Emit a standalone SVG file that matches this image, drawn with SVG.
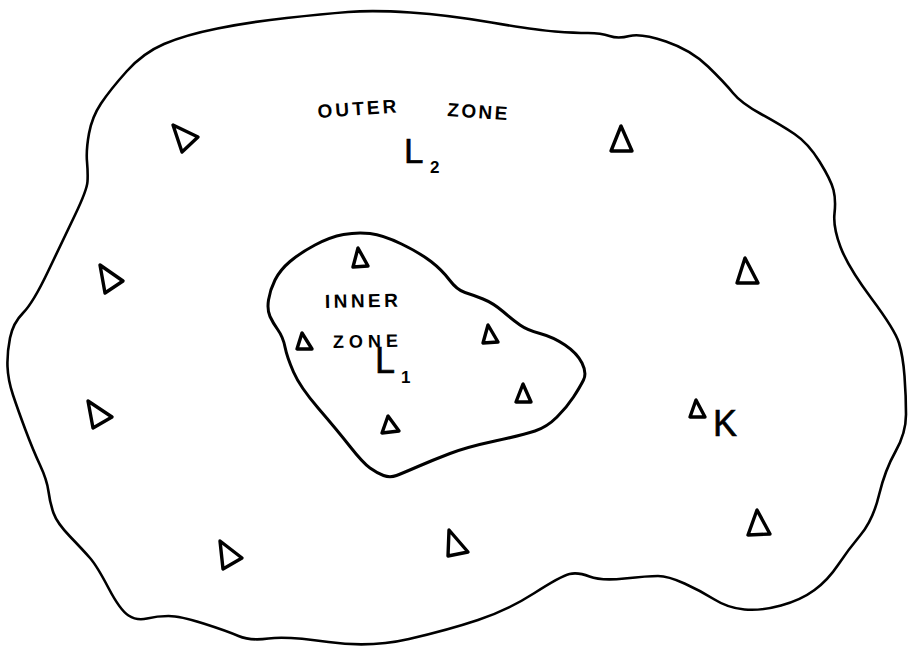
<svg xmlns="http://www.w3.org/2000/svg" width="908" height="653" viewBox="0 0 908 653">
<style>
.bd{fill:none;stroke:#000;stroke-linejoin:round;stroke-linecap:round}
.tri{fill:none;stroke:#000;stroke-width:3.4;stroke-linejoin:round}
.lbl{font-family:"Liberation Sans",Arial,sans-serif;font-weight:bold;fill:#000}
.big{font-family:"Liberation Sans",Arial,sans-serif;fill:#000;stroke:#000;stroke-width:0.6}
</style>
<rect width="908" height="653" fill="#fff"/>
<g id="outer-zone">
<path class="bd" stroke-width="2.6" d="M 164,44 Q 185,35 217.5,28.5 Q 250,22 286.5,18 Q 323,14 348,12 Q 373,10 410.5,12.5 Q 448,15 491.5,22.5 Q 535,30 555,31.5 Q 575,33 588,33 Q 601,33 609.5,36 Q 618,39 629.5,36 Q 641,33 666,41.5 Q 691,50 708,66.5 Q 725,83 733,93 Q 741,103 761,114 Q 781,125 794.5,134 Q 808,143 819.5,161.5 Q 831,180 833.5,190 Q 836,200 834.5,213.5 Q 833,227 840.5,247 Q 848,267 871.5,298.5 Q 895,330 899,343 Q 903,356 904.5,376 Q 906,396 906,414.5 Q 906,433 895.5,451.5 Q 885,470 879,495 Q 873,520 860.5,535 Q 848,550 838,565 Q 828,580 814.5,590 Q 801,600 781,605.5 Q 761,611 744.5,609.5 Q 728,608 714.5,599.5 Q 701,591 684.5,583.5 Q 668,576 658,576 Q 648,576 624.5,578.5 Q 601,581 589.5,576.5 Q 578,572 569.5,574 Q 561,576 534.5,593 Q 508,610 478,620 Q 448,630 409,639 Q 370,648 328.5,642 Q 287,636 268.5,638.5 Q 250,641 238.5,636 Q 227,631 203.5,623.5 Q 180,616 168.5,616 Q 157,616 147,618.5 Q 137,621 128.5,615.5 Q 120,610 108.5,588 Q 97,566 90,558 Q 83,550 70,536.5 Q 57,523 53.5,513 Q 50,503 48.5,491.5 Q 47,480 40,465 Q 33,450 25.5,430 Q 18,410 13,395 Q 8,380 7.5,366.5 Q 7,353 10,338 Q 13,323 23,313 Q 33,303 48,271.5 Q 63,240 75,215 Q 87,190 87.5,181.5 Q 88,173 87,161.5 Q 86,150 89,133.5 Q 92,117 101,103.5 Q 110,90 126.5,71.5 Q 143,53 164,44 Z"/>
<text class="lbl" x="318" y="118" font-size="19" textLength="79" lengthAdjust="spacing" transform="rotate(-4 318 118)">OUTER</text>
<text class="lbl" x="447" y="116" font-size="19" textLength="60" lengthAdjust="spacing" transform="rotate(4 447 116)">ZONE</text>
<text class="big" x="404" y="163" font-size="35">L</text>
<text class="lbl" x="430" y="173" font-size="17">2</text>
</g>
<g id="inner-zone">
<path class="bd" stroke-width="3" d="M 315,245 Q 330,237 343.5,234.5 Q 357,232 370,233.5 Q 383,235 401.5,244 Q 420,253 431,261.5 Q 442,270 449.5,280 Q 457,290 465,292.5 Q 473,295 483,299 Q 493,303 503,311.5 Q 513,320 520,325 Q 527,330 540,333.5 Q 553,337 565,345 Q 577,353 582,363 Q 587,373 583.5,380 Q 580,387 573.5,397 Q 567,407 557,417 Q 547,427 535,431 Q 523,435 495,441 Q 467,447 450,453.5 Q 433,460 418,466.5 Q 403,473 396.5,475.5 Q 390,478 383.5,475.5 Q 377,473 370,468 Q 363,463 350,446.5 Q 337,430 318.5,408.5 Q 300,387 293.5,372 Q 287,357 285,347 Q 283,337 278,330 Q 273,323 270,316.5 Q 267,310 268.5,300 Q 270,290 275,280 Q 280,270 290,261.5 Q 300,253 315,245 Z"/>
<text class="lbl" x="325" y="308" font-size="19" textLength="73" lengthAdjust="spacing" transform="rotate(-1 325 308)">INNER</text>
<text class="lbl" x="333" y="348" font-size="18" textLength="65" lengthAdjust="spacing" transform="rotate(-1 333 348)">ZONE</text>
<text class="big" x="375" y="373" font-size="36">L</text>
<text class="lbl" x="401" y="383" font-size="17">1</text>
</g>
<g id="stations">
<polygon class="tri" points="173,125 198,137 182,152"/>
<polygon class="tri" points="100,265 123,281 105,293"/>
<polygon class="tri" points="358,248 353,267 368,266"/>
<polygon class="tri" points="621,126 611,151 632,151"/>
<polygon class="tri" points="745,258 737,283 758,283"/>
<polygon class="tri" points="302,333 297,349 312,349"/>
<polygon class="tri" points="488,325 483,343 498,342"/>
<polygon class="tri" points="523,384 516,402 531,402"/>
<polygon class="tri" points="388,416 382,433 399,431"/>
<polygon class="tri" points="88,401 112,417 93,428"/>
<polygon class="tri" points="220,541 242,558 223,569"/>
<polygon class="tri" points="449,530 468,552 448,556"/>
<polygon class="tri" points="757,510 748,535 770,534"/>
</g>
<g id="station-k">
<polygon class="tri" points="696,400 690,417 705,417"/>
<text class="big" x="713" y="436" font-size="36">K</text>
</g>
</svg>
